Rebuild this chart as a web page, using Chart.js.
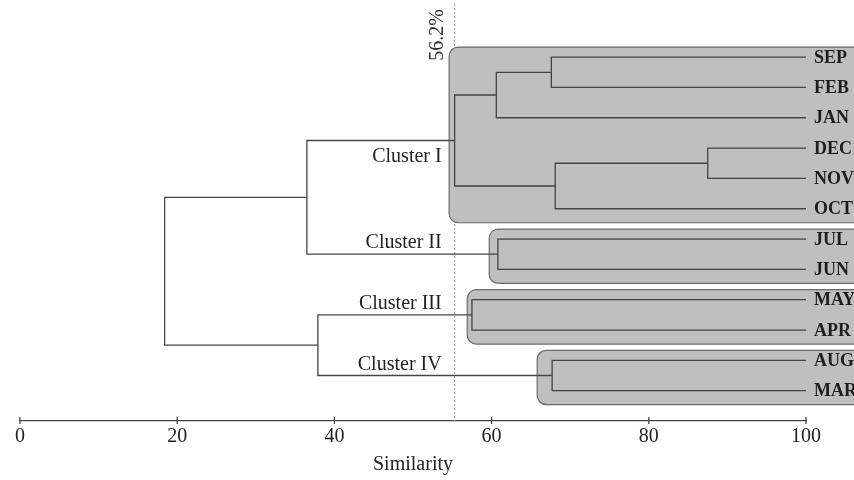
<!DOCTYPE html>
<html>
<head>
<meta charset="utf-8">
<script src="https://cdn.jsdelivr.net/npm/chart.js@4/dist/chart.umd.min.js"></script>
<style>
  body { margin: 0; background: #fff; }
  #wrap { width: 854px; height: 480px; }
</style>
</head>
<body>
<div id="wrap"><canvas id="dendro"></canvas></div>
<script>
// leaves, top to bottom
var leaves = ['SEP', 'FEB', 'JAN', 'DEC', 'NOV', 'OCT', 'JUL', 'JUN', 'MAY', 'APR', 'AUG', 'MAR'];
// merges: [node a, node b, similarity]; new node ids start after the leaves (12, 13, ...)
var merges = [
    [0, 1, 67.6],   // 12
    [12, 2, 60.6],  // 13
    [3, 4, 87.5],   // 14
    [14, 5, 68.1],  // 15
    [13, 15, 55.3], // 16 cluster I
    [6, 7, 60.8],   // 17 cluster II
    [8, 9, 57.5],   // 18 cluster III
    [10, 11, 67.7], // 19 cluster IV
    [16, 17, 36.5], // 20
    [18, 19, 37.9], // 21
    [20, 21, 18.4]  // 22 root
];
var clusterNames = ['Cluster I', 'Cluster II', 'Cluster III', 'Cluster IV'];
var clusterNodes = [16, 17, 18, 19];
var clusterBoxFrom = [54.6, 59.7, 56.9, 65.8];
var cutoffValue = 55.3;
var cutoffLabel = '56.2%';
var xTicks = [0, 20, 40, 60, 80, 100];

var serif = '"Liberation Serif", "Times New Roman", serif';
var lineColor = '#444';

// work out where every node sits: leaves at similarity 100
var nodes = leaves.map(function(name, i){ return {x: 100, y: i, first: i, last: i}; });
merges.forEach(function(m){
    var a = nodes[m[0]], b = nodes[m[1]];
    nodes.push({x: m[2], y: (a.y + b.y) / 2, first: Math.min(a.first, b.first), last: Math.max(a.last, b.last)});
});

var datasets = merges.map(function(m){
    var a = nodes[m[0]], b = nodes[m[1]];
    return {
        data: [{x: a.x, y: a.y}, {x: m[2], y: a.y}, {x: m[2], y: b.y}, {x: b.x, y: b.y}],
        showLine: true,
        borderColor: lineColor,
        borderWidth: 1.3,
        pointRadius: 0,
        fill: false
    };
});

var decorations = {
    id: 'decorations',
    beforeDatasetsDraw: function(chart){
        var ctx = chart.ctx, xs = chart.scales.x, ys = chart.scales.y;
        ctx.save();
        // cut-off line
        var cx = xs.getPixelForValue(cutoffValue);
        ctx.strokeStyle = '#9a9a9a';
        ctx.lineWidth = 1;
        ctx.setLineDash([2, 2]);
        ctx.beginPath();
        ctx.moveTo(cx, 4);
        ctx.lineTo(cx, chart.chartArea.bottom);
        ctx.stroke();
        ctx.setLineDash([]);
        // tick marks crossing the axis line
        var by = chart.chartArea.bottom;
        ctx.strokeStyle = lineColor;
        ctx.lineWidth = 1.3;
        xTicks.forEach(function(v){
            var tx = xs.getPixelForValue(v);
            ctx.beginPath();
            ctx.moveTo(tx, by - 4);
            ctx.lineTo(tx, by + 3);
            ctx.stroke();
        });
        // cluster boxes
        clusterNodes.forEach(function(id, i){
            var n = nodes[id];
            var left = xs.getPixelForValue(clusterBoxFrom[i]);
            var top = ys.getPixelForValue(n.first) - 10;
            var bottom = ys.getPixelForValue(n.last) + 14;
            ctx.beginPath();
            ctx.roundRect(left, top, chart.width + 20 - left, bottom - top, 9);
            ctx.fillStyle = '#bfbfbf';
            ctx.fill();
            ctx.strokeStyle = '#6a6a6a';
            ctx.lineWidth = 1.2;
            ctx.stroke();
        });
        ctx.restore();
    },
    afterDatasetsDraw: function(chart){
        var ctx = chart.ctx, xs = chart.scales.x, ys = chart.scales.y;
        ctx.save();
        // leaf names
        ctx.fillStyle = '#1e1e1e';
        ctx.font = 'bold 18px ' + serif;
        ctx.textAlign = 'left';
        ctx.textBaseline = 'middle';
        leaves.forEach(function(name, i){
            ctx.fillText(name, xs.getPixelForValue(100) + 8, ys.getPixelForValue(i) + 1);
        });
        // cluster names
        var cx = xs.getPixelForValue(cutoffValue);
        ctx.fillStyle = '#222';
        ctx.font = '20px ' + serif;
        ctx.textAlign = 'right';
        clusterNodes.forEach(function(id, i){
            var n = nodes[id];
            var y = i === 0 ? n.y + 0.55 : n.y - 0.37;
            ctx.fillText(clusterNames[i], cx - 13, ys.getPixelForValue(y));
        });
        // cut-off label
        ctx.translate(cx - 17, 35);
        ctx.rotate(-Math.PI / 2);
        ctx.textAlign = 'center';
        ctx.font = '20px ' + serif;
        ctx.fillStyle = '#333';
        ctx.fillText(cutoffLabel, 0, 0);
        ctx.restore();
    }
};

new Chart(document.getElementById('dendro'), {
    type: 'scatter',
    data: {datasets: datasets},
    options: {
        responsive: true,
        maintainAspectRatio: false,
        animation: false,
        events: [],
        layout: {padding: {left: 20, right: 48, top: 8.6, bottom: 3}},
        plugins: {legend: {display: false}, tooltip: {enabled: false}},
        scales: {
            x: {
                type: 'linear',
                min: 0,
                max: 100,
                afterBuildTicks: function(axis){
                    axis.ticks = xTicks.map(function(v){ return {value: v}; });
                },
                border: {display: true, color: lineColor, width: 1.3},
                grid: {display: false, drawTicks: false},
                ticks: {color: '#222', padding: 4, maxRotation: 0, font: {family: serif, size: 20}},
                title: {display: true, text: 'Similarity', color: '#222', padding: {top: 0, bottom: 0}, font: {family: serif, size: 20}}
            },
            y: {
                type: 'linear',
                display: false,
                reverse: true,
                min: -1.6,
                max: 12
            }
        }
    },
    plugins: [decorations]
});
</script>
</body>
</html>
